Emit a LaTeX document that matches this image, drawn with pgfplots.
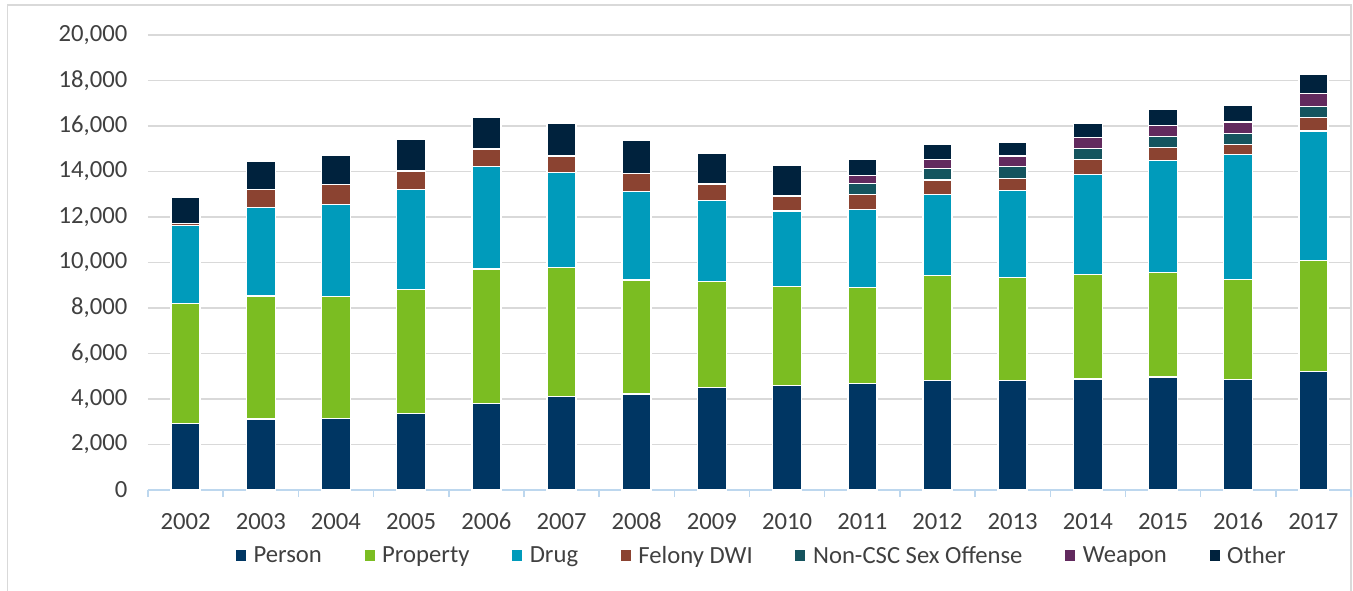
\documentclass[border=0pt]{standalone}
\usepackage{fontspec}
\setmainfont{Carlito}
\usepackage{pgfplots}
\pgfplotsset{compat=1.18}
\newlength\px \setlength\px{0.75pt}
\definecolor{cPerson}{RGB}{0,54,99}
\definecolor{cProperty}{RGB}{123,189,34}
\definecolor{cDrug}{RGB}{0,155,187}
\definecolor{cDWI}{RGB}{139,67,49}
\definecolor{cSex}{RGB}{21,84,94}
\definecolor{cWeapon}{RGB}{98,42,94}
\definecolor{cOther}{RGB}{0,34,61}
\definecolor{textgray}{RGB}{64,64,64}
\definecolor{gridgray}{RGB}{217,217,217}
\definecolor{axisblue}{RGB}{189,215,238}
\definecolor{framegray}{RGB}{217,217,217}

\pgfplotstableread{
x Person Property Drug DWI Sex Weapon Other
0 2930 5275 3415 100 0 0 1160
1 3120 5407 3898 791 0 0 1230
2 3150 5348 4044 879 0 0 1289
3 3355 5451 4396 820 0 0 1394
4 3810 5904 4499 776 0 0 1407
5 4103 5670 4176 732 0 0 1451
6 4220 5011 3897 791 0 0 1451
7 4513 4645 3576 717 0 0 1362
8 4586 4352 3326 659 0 0 1348
9 4674 4220 3428 660 483 352 703
10 4821 4615 3546 644 499 410 644
11 4821 4528 3824 527 513 468 585
12 4879 4601 4395 660 484 484 615
13 4967 4601 4907 588 484 468 719
14 4850 4410 5495 440 484 497 717
15 5217 4878 5685 585 500 572 819
}\datatable

\begin{document}
\begin{tikzpicture}
\useasboundingbox (0,0) rectangle (1353\px,-591\px);
\draw[framegray, line width=1.5\px] (7.5\px,-591\px) -- (7.5\px,-5\px) -- (1351\px,-5\px) -- (1351\px,-591\px);
\begin{axis}[
  at={(148\px,-490\px)}, anchor=south west,
  scale only axis, width=1203\px, height=455\px,
  ybar stacked, bar width=29\px,
  xmin=-0.5, xmax=15.5, ymin=0, ymax=20000,
  xtick={0,...,15},
  xticklabels={2002,2003,2004,2005,2006,2007,2008,2009,2010,2011,2012,2013,2014,2015,2016,2017},
  minor xtick={-0.5,0.5,...,15.5},
  ytick={0,2000,...,20000},
  scaled y ticks=false,
  ymajorgrids, grid style={gridgray, line width=1.5\px},
  axis x line*=bottom, axis y line*=left,
  y axis line style={draw=none},
  x axis line style={axisblue, line width=1.5\px},
  tick align=outside,
  major tick length=0pt,
  minor tick length=7\px,
  minor tick style={axisblue, line width=1.5\px},
  tick label style={font=\fontsize{18.5}{22}\selectfont, text=textgray},
  yticklabel style={xshift=-16\px},
  xticklabel style={anchor=base, yshift=-39.5\px},
  /pgf/number format/.cd, 1000 sep={,}, assume math mode=true, /pgfplots/.cd,
  every axis plot/.append style={draw=white, line width=1.5\px},
  legend image code/.code={\fill[#1,draw=none] (0\px,-5\px) rectangle (10\px,5.5\px);},
  legend columns=-1,
  legend style={at={(0.5105,-0.145)}, anchor=center, draw=none, fill=none,
    font=\fontsize{18.5}{22}\selectfont, text=textgray,
    /tikz/every odd column/.append style={column sep=5\px},
    /tikz/every even column/.append style={column sep=40\px}},
]
\addplot[fill=cPerson] table[x=x,y=Person]{\datatable};
\addplot[fill=cProperty] table[x=x,y=Property]{\datatable};
\addplot[fill=cDrug] table[x=x,y=Drug]{\datatable};
\addplot[fill=cDWI] table[x=x,y=DWI]{\datatable};
\addplot[fill=cSex] table[x=x,y=Sex]{\datatable};
\addplot[fill=cWeapon] table[x=x,y=Weapon]{\datatable};
\addplot[fill=cOther] table[x=x,y=Other]{\datatable};
\legend{Person,Property,Drug,Felony DWI,Non-CSC Sex Offense,Weapon,Other}
\end{axis}
\end{tikzpicture}
\end{document}
